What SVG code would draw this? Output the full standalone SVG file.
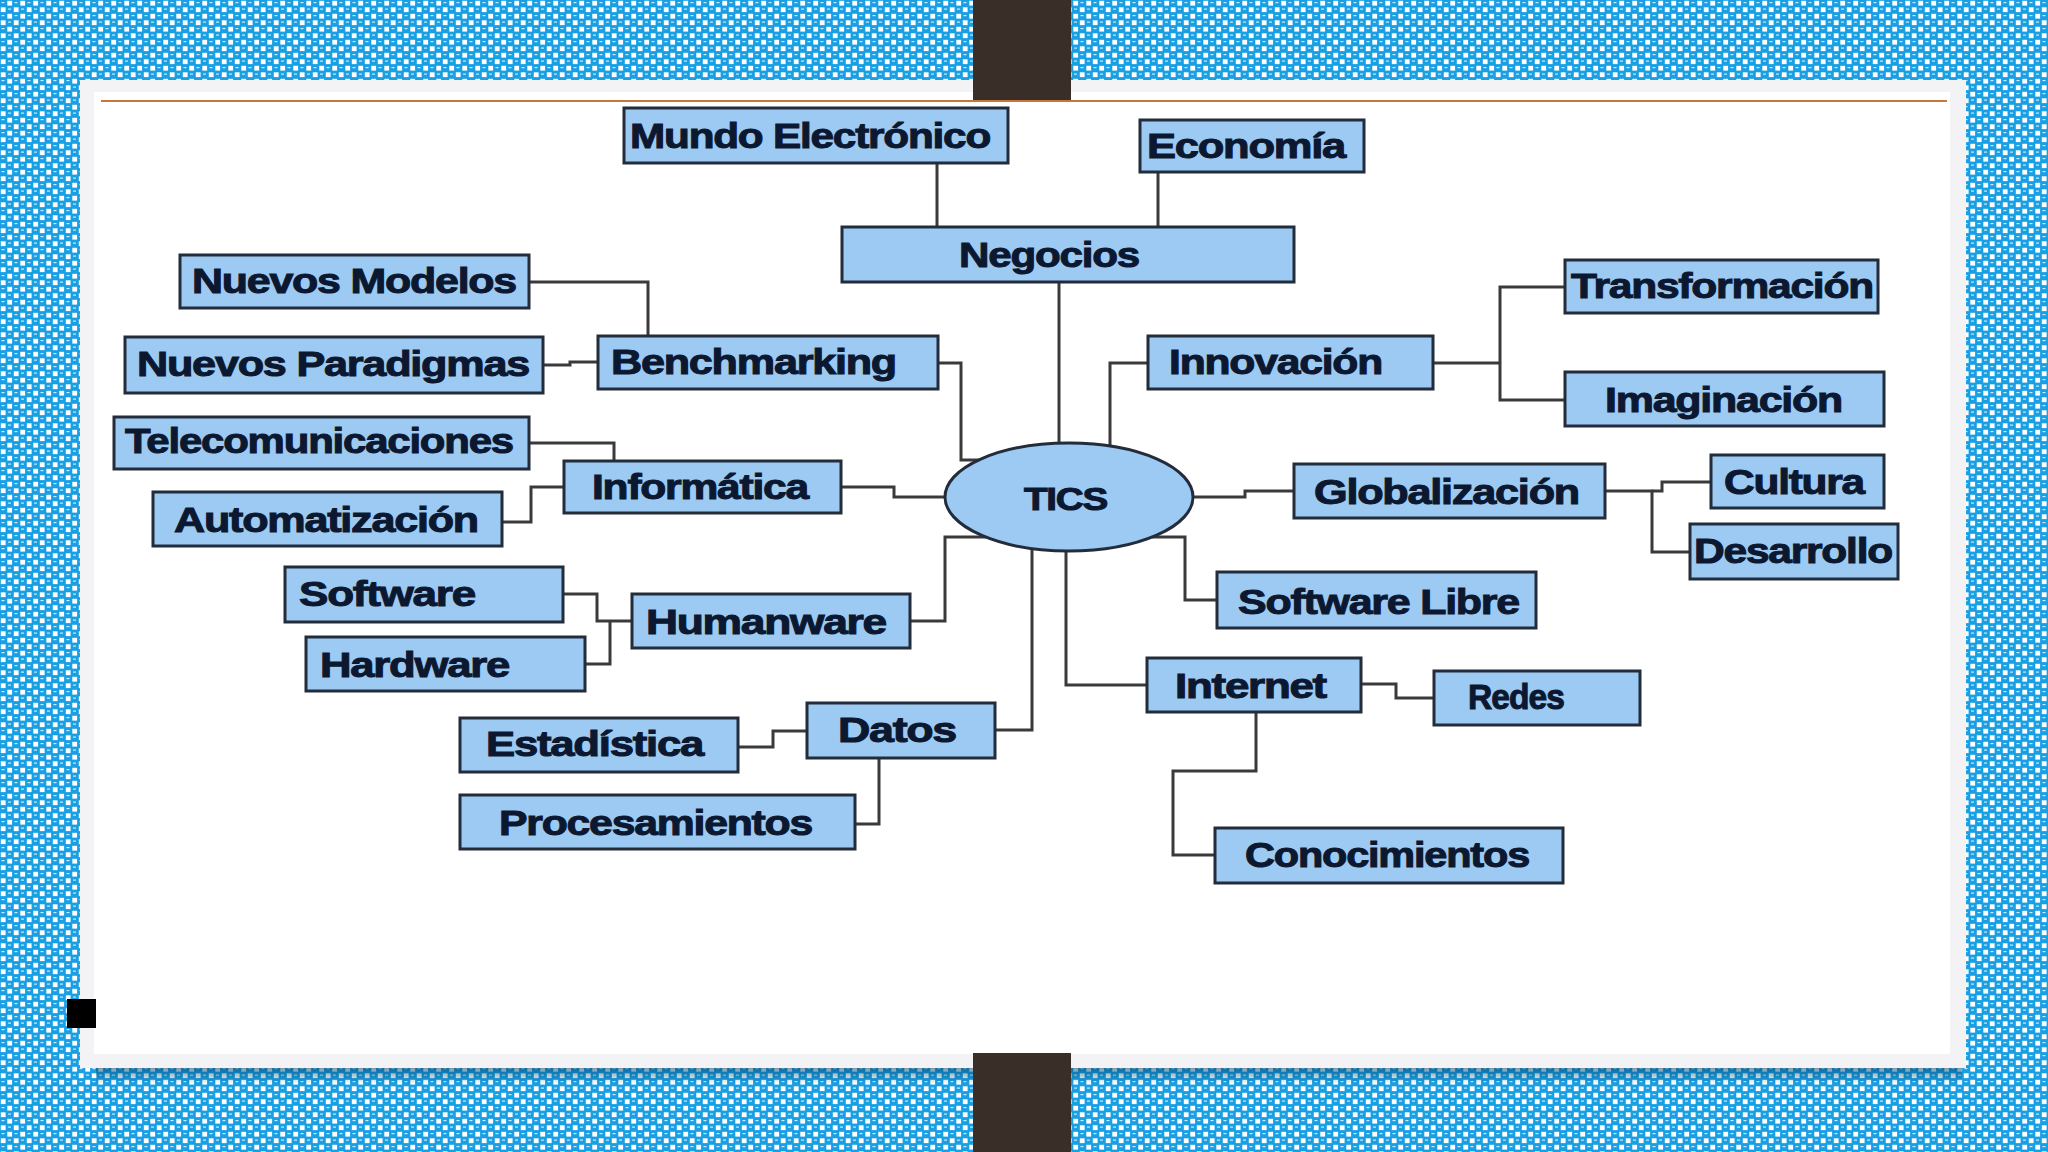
<svg xmlns="http://www.w3.org/2000/svg" width="2048" height="1152" viewBox="0 0 2048 1152">
<defs>
<pattern id="chk" width="13" height="13" patternUnits="userSpaceOnUse">
<rect width="13" height="13" fill="#189fe4"/>
<rect x="7.3" y="0.8" width="4.8" height="4.8" fill="#ffffff"/>
<rect x="0.8" y="7.3" width="4.8" height="4.8" fill="#ffffff"/>
<rect x="1.5" y="2" width="3" height="1.2" fill="#c9ecfc"/>
<rect x="8" y="8.5" width="3" height="1.2" fill="#c9ecfc"/>
</pattern>
<linearGradient id="shadow" x1="0" y1="0" x2="0" y2="1">
<stop offset="0" stop-color="#06476e" stop-opacity="0.55"/>
<stop offset="1" stop-color="#06476e" stop-opacity="0"/>
</linearGradient>
<style>
.box{fill:#9dcaf3;stroke:#222c3a;stroke-width:3}
.t{font-family:"Liberation Sans",Arial,sans-serif;font-weight:bold;font-size:35px;fill:#0c1830;stroke:#0c1830;stroke-width:1;letter-spacing:-1px}
.c{fill:none;stroke:#3a3a3a;stroke-width:3}
</style>
</defs>
<rect width="2048" height="1152" fill="url(#chk)"/>
<rect x="96" y="1068" width="1866" height="16" fill="url(#shadow)"/>
<rect x="80" y="80" width="1886" height="988" fill="#f3f3f5"/>
<rect x="94" y="92" width="1856" height="962" fill="#ffffff"/>
<line x1="101" y1="101" x2="1947" y2="101" stroke="#c8773a" stroke-width="2"/>
<rect x="973" y="0" width="98" height="100" fill="#3a2f28"/>
<rect x="973" y="1053" width="98" height="99" fill="#3a2f28"/>
<rect x="67" y="999" width="29" height="29" fill="#000000"/>

<g id="connectors">
<polyline class="c" points="937,163 937,227"/>
<polyline class="c" points="1158,172 1158,227"/>
<polyline class="c" points="1059,282 1059,444"/>
<polyline class="c" points="1148,363 1110,363 1110,447"/>
<polyline class="c" points="938,363 961,363 961,460 980,460"/>
<polyline class="c" points="841,487 894,487 894,497 946,497"/>
<polyline class="c" points="1192,497 1245,497 1245,491 1294,491"/>
<polyline class="c" points="1605,491 1652,491 1652,552 1690,552"/>
<polyline class="c" points="1652,491 1662,491 1662,482 1711,482"/>
<polyline class="c" points="1433,363 1500,363"/>
<polyline class="c" points="1565,287 1500,287 1500,400 1565,400"/>
<polyline class="c" points="529,282 648,282 648,336"/>
<polyline class="c" points="543,365 570,365 570,362 598,362"/>
<polyline class="c" points="529,443 614,443 614,461"/>
<polyline class="c" points="502,522 531,522 531,487 564,487"/>
<polyline class="c" points="910,621 945,621 945,537 986,537"/>
<polyline class="c" points="563,594 597,594 597,621 632,621"/>
<polyline class="c" points="585,664 610,664 610,621"/>
<polyline class="c" points="995,730 1032,730 1032,548"/>
<polyline class="c" points="738,747 773,747 773,731 807,731"/>
<polyline class="c" points="855,824 879,824 879,758"/>
<polyline class="c" points="1066,550 1066,685 1147,685"/>
<polyline class="c" points="1152,537 1185,537 1185,600 1217,600"/>
<polyline class="c" points="1361,684 1396,684 1396,698 1434,698"/>
<polyline class="c" points="1256,712 1256,771 1173,771 1173,855 1215,855"/>
</g>

<g id="n-mundo"><rect class="box" x="624" y="108" width="384" height="55"/><text class="t" x="630" y="148" textLength="360" lengthAdjust="spacingAndGlyphs">Mundo Electrónico</text></g>
<g id="n-economia"><rect class="box" x="1140" y="120" width="224" height="52"/><text class="t" x="1147" y="158" textLength="198" lengthAdjust="spacingAndGlyphs">Economía</text></g>
<g id="n-negocios"><rect class="box" x="842" y="227" width="452" height="55"/><text class="t" x="959" y="267" textLength="180" lengthAdjust="spacingAndGlyphs">Negocios</text></g>
<g id="n-nuevos-modelos"><rect class="box" x="180" y="255" width="349" height="53"/><text class="t" x="192" y="293" textLength="324" lengthAdjust="spacingAndGlyphs">Nuevos Modelos</text></g>
<g id="n-benchmarking"><rect class="box" x="598" y="336" width="340" height="53"/><text class="t" x="611" y="374" textLength="285" lengthAdjust="spacingAndGlyphs">Benchmarking</text></g>
<g id="n-nuevos-paradigmas"><rect class="box" x="125" y="337" width="418" height="56"/><text class="t" x="137" y="376" textLength="392" lengthAdjust="spacingAndGlyphs">Nuevos Paradigmas</text></g>
<g id="n-telecomunicaciones"><rect class="box" x="114" y="417" width="415" height="52"/><text class="t" x="125" y="453" textLength="388" lengthAdjust="spacingAndGlyphs">Telecomunicaciones</text></g>
<g id="n-informatica"><rect class="box" x="564" y="461" width="277" height="52"/><text class="t" x="592" y="499" textLength="216" lengthAdjust="spacingAndGlyphs">Informática</text></g>
<g id="n-automatizacion"><rect class="box" x="153" y="492" width="349" height="54"/><text class="t" x="174" y="532" textLength="304" lengthAdjust="spacingAndGlyphs">Automatización</text></g>
<g id="n-tics"><ellipse class="box" cx="1069" cy="497" rx="124" ry="54"/><text class="t" x="1024" y="510" textLength="83" lengthAdjust="spacingAndGlyphs" style="font-size:31px">TICS</text></g>
<g id="n-innovacion"><rect class="box" x="1148" y="336" width="285" height="53"/><text class="t" x="1169" y="374" textLength="213" lengthAdjust="spacingAndGlyphs">Innovación</text></g>
<g id="n-transformacion"><rect class="box" x="1565" y="260" width="313" height="53"/><text class="t" x="1571" y="298" textLength="302" lengthAdjust="spacingAndGlyphs">Transformación</text></g>
<g id="n-imaginacion"><rect class="box" x="1565" y="372" width="319" height="54"/><text class="t" x="1605" y="412" textLength="237" lengthAdjust="spacingAndGlyphs">Imaginación</text></g>
<g id="n-globalizacion"><rect class="box" x="1294" y="464" width="311" height="54"/><text class="t" x="1314" y="504" textLength="265" lengthAdjust="spacingAndGlyphs">Globalización</text></g>
<g id="n-cultura"><rect class="box" x="1711" y="455" width="173" height="53"/><text class="t" x="1724" y="494" textLength="140" lengthAdjust="spacingAndGlyphs">Cultura</text></g>
<g id="n-desarrollo"><rect class="box" x="1690" y="524" width="208" height="55"/><text class="t" x="1694" y="563" textLength="198" lengthAdjust="spacingAndGlyphs">Desarrollo</text></g>
<g id="n-software-libre"><rect class="box" x="1217" y="572" width="319" height="56"/><text class="t" x="1238" y="614" textLength="281" lengthAdjust="spacingAndGlyphs">Software Libre</text></g>
<g id="n-software"><rect class="box" x="285" y="567" width="278" height="55"/><text class="t" x="299" y="606" textLength="176" lengthAdjust="spacingAndGlyphs">Software</text></g>
<g id="n-hardware"><rect class="box" x="306" y="637" width="279" height="54"/><text class="t" x="320" y="677" textLength="189" lengthAdjust="spacingAndGlyphs">Hardware</text></g>
<g id="n-humanware"><rect class="box" x="632" y="594" width="278" height="54"/><text class="t" x="646" y="634" textLength="240" lengthAdjust="spacingAndGlyphs">Humanware</text></g>
<g id="n-internet"><rect class="box" x="1147" y="658" width="214" height="54"/><text class="t" x="1175" y="698" textLength="151" lengthAdjust="spacingAndGlyphs">Internet</text></g>
<g id="n-redes"><rect class="box" x="1434" y="671" width="206" height="54"/><text class="t" x="1468" y="709" textLength="96" lengthAdjust="spacingAndGlyphs">Redes</text></g>
<g id="n-datos"><rect class="box" x="807" y="703" width="188" height="55"/><text class="t" x="838" y="742" textLength="118" lengthAdjust="spacingAndGlyphs">Datos</text></g>
<g id="n-estadistica"><rect class="box" x="460" y="718" width="278" height="54"/><text class="t" x="486" y="756" textLength="217" lengthAdjust="spacingAndGlyphs">Estadística</text></g>
<g id="n-procesamientos"><rect class="box" x="460" y="795" width="395" height="54"/><text class="t" x="499" y="835" textLength="313" lengthAdjust="spacingAndGlyphs">Procesamientos</text></g>
<g id="n-conocimientos"><rect class="box" x="1215" y="828" width="348" height="55"/><text class="t" x="1245" y="867" textLength="284" lengthAdjust="spacingAndGlyphs">Conocimientos</text></g>
</svg>
